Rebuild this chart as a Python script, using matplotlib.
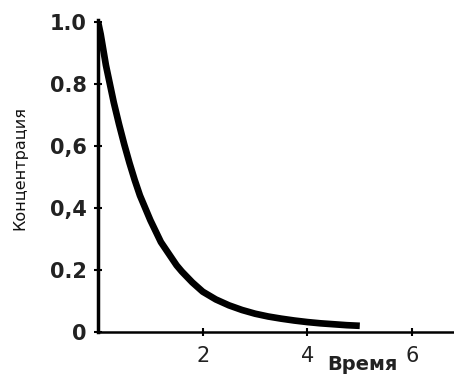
import matplotlib
matplotlib.use("Agg")
import matplotlib.pyplot as plt

# values
time = [0.0, 0.05, 0.1, 0.15, 0.2, 0.25, 0.3, 0.35, 0.4, 0.5, 0.6, 0.7, 0.8, 0.9,
        1.0, 1.1, 1.2, 1.3, 1.4, 1.5, 1.6, 1.8, 2.0, 2.25, 2.5, 2.75, 3.0, 3.25,
        3.5, 3.75, 4.0, 4.25, 4.5, 4.75, 5.0]
conc = [1.0, 0.96, 0.91, 0.86, 0.82, 0.78, 0.74, 0.705, 0.67, 0.605, 0.545, 0.49, 0.44, 0.40,
        0.36, 0.325, 0.29, 0.265, 0.24, 0.215, 0.195, 0.16, 0.13, 0.105, 0.086, 0.071, 0.059, 0.05,
        0.043, 0.037, 0.032, 0.028, 0.025, 0.022, 0.02]

yticks = [0, 0.2, 0.4, 0.6, 0.8, 1.0]
ylabels = ["0", "0.2", "0,4", "0,6", "0.8", "1.0"]
xticks = [2, 4, 6]
xlabels = ["2", "4", "6"]

fig = plt.figure(figsize=(4.54, 3.76), dpi=100)
ax = fig.add_axes([0.216, 0.117, 0.784, 0.83])

ax.plot(time, conc, color="black", lw=4.8, solid_capstyle="butt", solid_joinstyle="round")

ax.set_xlim(0, 6.8)
ax.set_ylim(0, 1.006)
ax.spines["top"].set_visible(False)
ax.spines["right"].set_visible(False)
ax.spines["left"].set_linewidth(2.5)
ax.spines["bottom"].set_linewidth(1.8)

ax.set_yticks(yticks)
ax.set_yticklabels(ylabels, fontsize=15, fontweight="bold", color="#222222")
ax.set_xticks(xticks)
ax.set_xticklabels(xlabels, fontsize=15, color="#222222")
ax.tick_params(axis="y", direction="inout", length=6, width=1.5, pad=5)
ax.tick_params(axis="x", direction="inout", length=6, width=1.5, pad=7)

fig.text(20 / 454, 1 - 168 / 376, "Концентрация", rotation=90, fontsize=11.5,
         ha="center", va="center", color="#111111")
# time label sits low at the right, like in the scan
fig.text(362 / 454, 2 / 376, "Время", fontsize=14, fontweight="bold",
         ha="center", va="bottom", color="#222222")

fig.savefig("out.png", dpi=100)
